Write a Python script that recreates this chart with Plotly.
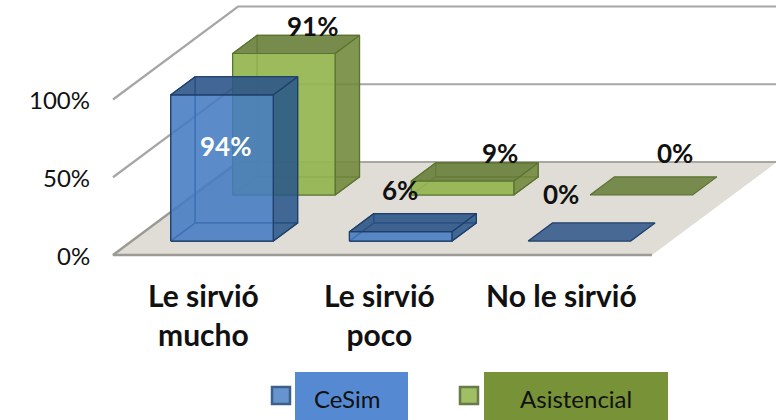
import plotly.graph_objects as go

categories = ["Le sirvió<br>mucho", "Le sirvió<br>poco", "No le sirvió"]
cesim = [94, 6, 0]
asistencial = [91, 9, 0]
y_ticks = [0, 50, 100]
series_names = ["CeSim", "Asistencial"]

# oblique projection of the 3D chart box into page pixels
X0, Y0 = 113, 255
FLOOR_W = 539
DEPTH_X, DEPTH_Y = 125, -93
UNIT = 1.555
CAT_W = FLOOR_W / len(categories)
BAR_PITCH, BAR_START, BAR_WIDTH = 178.7 / CAT_W, 39 / CAT_W, 102.5 / CAT_W


def P(cat, val, d):
    return X0 + cat * CAT_W + d * DEPTH_X, Y0 - val * UNIT + d * DEPTH_Y


FONT = "Lato, Carlito, Calibri, sans-serif"
GRID = "#a6a6a6"
STYLE = {
    "CeSim": dict(d0=0.15, d1=0.345, edge="#1f3f69",
                  front="rgba(70,125,195,0.82)", side="rgba(40,85,135,0.80)", top="rgba(45,85,135,0.85)",
                  inner="rgba(60,105,165,0.35)"),
    "Asistencial": dict(d0=0.645, d1=0.84, edge="#5a7330",
                        front="rgba(150,183,82,0.90)", side="rgba(115,137,62,0.85)", top="rgba(105,128,60,0.88)",
                        inner="rgba(120,150,70,0.35)"),
}

fig = go.Figure()


def poly(points, fill, line="rgba(0,0,0,0)", width=1.2, name=None):
    xs = [p[0] for p in points] + [points[0][0]]
    ys = [p[1] for p in points] + [points[0][1]]
    fig.add_trace(go.Scatter(x=xs, y=ys, mode="lines", fill="toself" if fill else None,
                             fillcolor=fill, line=dict(color=line, width=width),
                             hoverinfo="skip", showlegend=False, name=name))


def polyline(points, color=GRID, width=2.2):
    fig.add_trace(go.Scatter(x=[p[0] for p in points], y=[p[1] for p in points], mode="lines",
                             line=dict(color=color, width=width), hoverinfo="skip", showlegend=False))


# floor
poly([P(0, 0, 0), P(3, 0, 0), P(3, 0, 1), P(0, 0, 1)], "#dfddd6")
polyline([P(0, 0, 1), P(0, 0, 0), P(3, 0, 0)], "#9c9a94", 2.4)
polyline([P(0, 0, 1), P(3, 0, 1)], "#a8a7a2", 2)
# gridlines on side and back wall
for t in y_ticks[1:]:
    polyline([P(0, t, 0), P(0, t, 1), P(3, t, 1)])


def bar_x(i):
    c0 = BAR_START + i * BAR_PITCH
    return c0, c0 + BAR_WIDTH


def bar(i, v, s):
    c0, c1 = bar_x(i)
    d0, d1 = s["d0"], s["d1"]
    e = s["edge"]
    if v > 0:
        poly([P(c0, 0, d1), P(c1, 0, d1), P(c1, v, d1), P(c0, v, d1)], s["inner"], e)
        poly([P(c0, 0, d0), P(c1, 0, d0), P(c1, 0, d1), P(c0, 0, d1)], s["inner"], e)
        poly([P(c0, 0, d0), P(c0, 0, d1), P(c0, v, d1), P(c0, v, d0)], s["inner"], e)
        poly([P(c1, 0, d0), P(c1, 0, d1), P(c1, v, d1), P(c1, v, d0)], s["side"], e)
        poly([P(c0, 0, d0), P(c1, 0, d0), P(c1, v, d0), P(c0, v, d0)], s["front"], e)
    poly([P(c0, v, d0), P(c1, v, d0), P(c1, v, d1), P(c0, v, d1)], s["top"], e)


for name, vals in (("Asistencial", asistencial), ("CeSim", cesim)):
    for i, v in enumerate(vals):
        bar(i, v, STYLE[name])

ann = []
# y tick labels
for t in y_ticks:
    ann.append(dict(x=X0 - 23 + 2, y=Y0 - t * UNIT, text=f"{t}%", xanchor="right", yanchor="middle",
                    showarrow=False, font=dict(family=FONT, size=24, color="#111111")))
# category labels
cat_nudge = [1, -3, -1]
for i, c in enumerate(categories):
    ann.append(dict(x=X0 + (i + 0.5) * CAT_W + cat_nudge[i], y=275, text=c, xanchor="center", yanchor="top",
                    showarrow=False, align="center",
                    font=dict(family=FONT, size=30, color="#111111", weight="bold")))

# data labels: offset from the front-top centre of each bar
cesim_off = [(3, 51, "white"), (-1, -42, "#111111"), (-18, -47, "#111111")]
asis_off = [(29, -28, "#111111"), (37, -28, "#111111"), (34, -42, "#111111")]
for vals, off, s in ((cesim, cesim_off, STYLE["CeSim"]), (asistencial, asis_off, STYLE["Asistencial"])):
    for i, v in enumerate(vals):
        c0, c1 = bar_x(i)
        px, py = P((c0 + c1) / 2, v, s["d0"])
        ann.append(dict(x=px + off[i][0], y=py + off[i][1], text=f"{v}%", xanchor="center", yanchor="middle",
                        showarrow=False, font=dict(family=FONT, size=26, color=off[i][2], weight="bold")))

# legend
legend = [("CeSim", 272, 295, 408, 347, "#558ad2", "rgba(70,125,195,0.82)", "#3c5f8c"),
          ("Asistencial", 460, 484, 668, 576, "#779237", "rgba(150,183,82,0.90)", "#687a4a")]
shapes = []
for name, sx, rx0, rx1, tx, bg, sw, sw_line in legend:
    shapes.append(dict(type="rect", x0=rx0, x1=rx1, y0=372, y1=420, fillcolor=bg, line=dict(width=0), layer="below"))
    shapes.append(dict(type="rect", x0=sx, x1=sx + 18, y0=387, y1=404, fillcolor=sw,
                       line=dict(color=sw_line, width=2.5)))
    ann.append(dict(x=tx, y=398, text=name, xanchor="center", yanchor="middle", showarrow=False,
                    font=dict(family=FONT, size=24, color="#111111")))

fig.update_layout(
    width=776, height=420, margin=dict(l=0, r=0, t=0, b=0),
    paper_bgcolor="white", plot_bgcolor="white", showlegend=False,
    xaxis=dict(range=[0, 776], visible=False, fixedrange=True),
    yaxis=dict(range=[420, 0], visible=False, fixedrange=True),
    annotations=ann, shapes=shapes,
)
fig.write_html("out.html", config={"displayModeBar": False},
               post_script="document.body.style.margin='0';document.body.style.overflow='hidden';")
